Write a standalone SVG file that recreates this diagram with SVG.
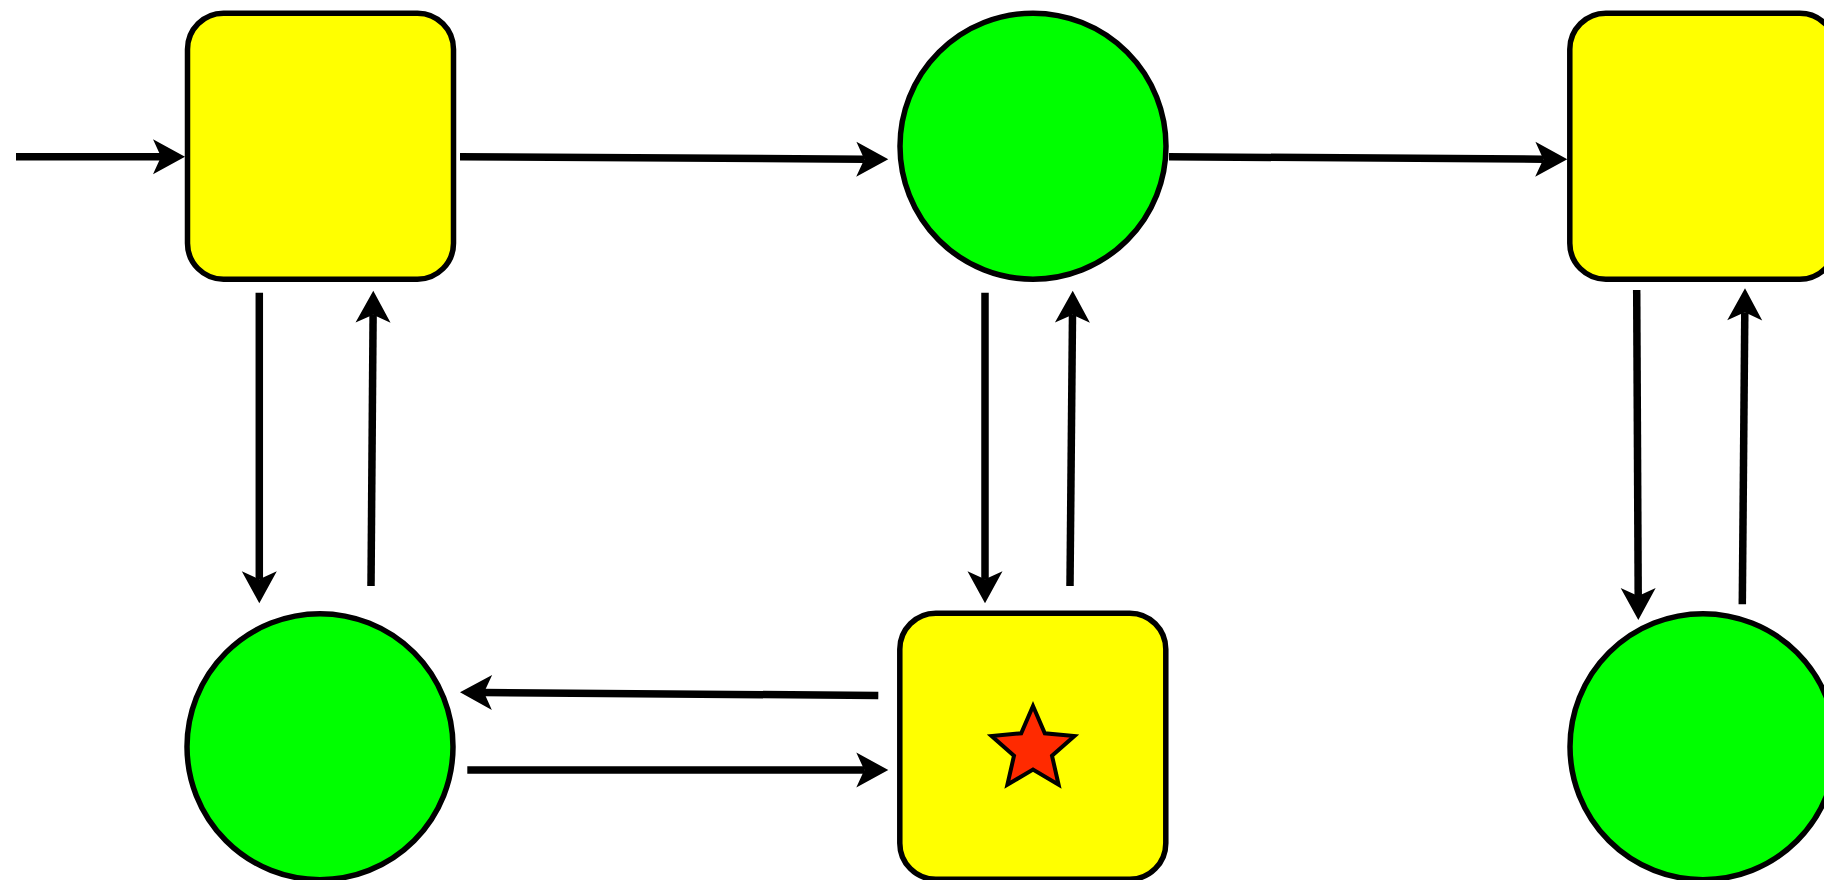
<svg xmlns="http://www.w3.org/2000/svg" width="1824" height="880" viewBox="0 0 1824 880">
  <style>
    .box { fill: #ffff00; stroke: #000; stroke-width: 5.5; }
    .ball { fill: #00ff00; stroke: #000; stroke-width: 5.5; }
    .star { fill: #ff2a00; stroke: #000; stroke-width: 4; stroke-linejoin: miter; }
    .edge { fill: none; stroke: #000; stroke-width: 7.5; marker-end: url(#head); }
  </style>
  <defs>
    <!-- notched arrowhead; the line stops at the notch, the tip sits 24px further on -->
    <marker id="head" markerUnits="userSpaceOnUse" orient="auto" refX="8" refY="0"
            markerWidth="40" markerHeight="40" viewBox="-2 -20 40 40" overflow="visible">
      <path d="M 0 -17.5 L 32 0 L 0 17.5 L 8 0 Z" fill="#000"/>
    </marker>
  </defs>

  <g id="connectors">
    <!-- entry into the first box -->
    <path class="edge" d="M 16 156.7 L 161 156.7"/>
    <!-- top row, left to right -->
    <path class="edge" d="M 460 156.7 L 864.3 159.2"/>
    <path class="edge" d="M 1169 156.7 L 1543.3 159.2"/>
    <!-- left column -->
    <path class="edge" d="M 259.3 292.7 L 259.3 579.3"/>
    <path class="edge" d="M 371 586 L 373.1 314.7"/>
    <!-- middle column -->
    <path class="edge" d="M 985 292.7 L 985 579.3"/>
    <path class="edge" d="M 1070 586 L 1072.5 314.7"/>
    <!-- right column -->
    <path class="edge" d="M 1636.7 290 L 1638.2 596"/>
    <path class="edge" d="M 1742.3 604.3 L 1744.8 312.3"/>
    <!-- bottom row -->
    <path class="edge" d="M 878.3 695.5 L 484 692.5"/>
    <path class="edge" d="M 467.3 770 L 864.3 770"/>
  </g>

  <g id="box-top-left">
    <rect class="box" x="187.5" y="13.2" width="266" height="266" rx="36" ry="36"/>
  </g>
  <g id="ball-top-middle">
    <circle class="ball" cx="1033" cy="146.2" r="133"/>
  </g>
  <g id="box-top-right">
    <rect class="box" x="1569.8" y="13.2" width="266" height="266" rx="36" ry="36"/>
  </g>
  <g id="ball-bottom-left">
    <circle class="ball" cx="320" cy="746.7" r="133"/>
  </g>
  <g id="box-bottom-middle">
    <rect class="box" x="899.8" y="613.2" width="266" height="266" rx="36" ry="36"/>
    <!-- five-pointed star, centre (1033, 749.5), R 43.5, r 20 -->
    <polygon class="star" points="1033,706 1044.8,733.3 1074.4,736.1 1052,755.7 1058.6,784.7 1033,769.5 1007.4,784.7 1014,755.7 991.6,736.1 1021.2,733.3"/>
  </g>
  <g id="ball-bottom-right">
    <circle class="ball" cx="1703" cy="746.7" r="133"/>
  </g>
</svg>
